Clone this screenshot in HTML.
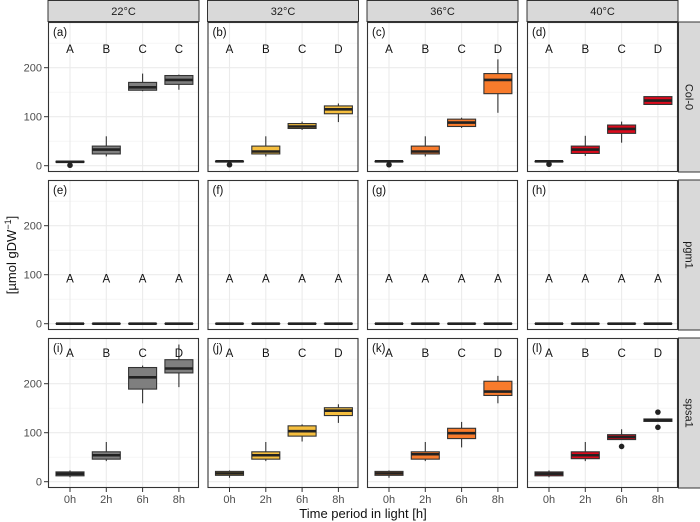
<!DOCTYPE html>
<html><head><meta charset="utf-8"><style>
html,body{margin:0;padding:0;background:#fff;}
svg{display:block;font-family:"Liberation Sans",sans-serif;}
</style></head><body>
<svg id="chart" width="700" height="522"></svg>
<script>
const temps = ["22°C","32°C","36°C","40°C"];
const genotypes = ["Col-0","pgm1","spsa1"];
const timeCats = ["0h","2h","6h","8h"];
const fillColors = ["#7f7f7f","#f5be3e","#f87b2c","#dc0a1c"];
const yTicks = [0,100,200];
const panelTags = [["(a)","(b)","(c)","(d)"],["(e)","(f)","(g)","(h)"],["(i)","(j)","(k)","(l)"]];
const sigLetters = [
 [["A","B","C","C"],["A","B","C","D"],["A","B","C","D"],["A","B","C","D"]],
 [["A","A","A","A"],["A","A","A","A"],["A","A","A","A"],["A","A","A","A"]],
 [["A","B","C","D"],["A","B","C","D"],["A","B","C","D"],["A","B","C","D"]]
];
const letterValues = [238, 92, 263];
// [min,q1,median,q3,max]
const colStats = [
 [[7,7,8,9,9],[19,24,33,40,60],[152,154,160,170,188],[155,166,175,184,186]],
 [[8,8,9,9,10],[19,24,29,40,60],[73,76,80,86,90],[89,106,115,122,127]],
 [[8,8,9,9,10],[19,24,29,40,60],[77,80,88,95,98],[108,147,175,188,217]],
 [[8,8,9,9,10],[20,25,33,40,61],[47,66,75,83,90],[125,125,133,141,141]]
];
const pgmStats = [[0,0,0,0,0],[0,0,0,0,0],[0,0,0,0,0],[0,0,0,0,0]];
const spsStats = [
 [[9,12,16,20,23],[42,46,54,61,81],[160,189,213,233,237],[193,222,231,249,280]],
 [[8,13,17,21,23],[42,46,54,61,81],[82,93,103,114,117],[120,135,145,151,158]],
 [[8,13,17,21,23],[42,46,56,61,81],[70,88,99,109,122],[160,176,184,205,216]],
 [[9,12,16,20,23],[42,47,54,61,81],[86,86,91,96,107],[123,123,126,128,128]]
];
const outliers = [
 [[[1],[],[],[]],[[2],[],[],[]],[[2],[],[],[]],[[3],[],[],[]]],
 [[[],[],[],[]],[[],[],[],[]],[[],[],[],[]],[[],[],[],[]]],
 [[[],[],[],[]],[[],[],[],[]],[[],[],[],[]],[[],[],[72],[111,142]]]
];
const allStats = [colStats, pgmStats.map(()=>pgmStats), spsStats];

const NS="http://www.w3.org/2000/svg";
const svg=document.getElementById('chart');
function mk(tag,attrs,parent){const e=document.createElementNS(NS,tag);for(const k in attrs)e.setAttribute(k,attrs[k]);(parent||svg).appendChild(e);return e;}
const colX=[48,207.5,367,527], PW=151, rowY=[22,180,338], PH=150;
function yScale(r,v){return rowY[r]+PH-6.3-v*0.49;}
function xScale(c,i){return colX[c]+22+i*36.3;}

// strips top
temps.forEach((t,c)=>{
 const s=mk('rect',{x:colX[c],y:0.5,width:PW,height:21,fill:'#d9d9d9',stroke:'#333',"stroke-width":1});
 
 
 const tx=mk('text',{x:colX[c]+PW/2,y:15,"text-anchor":"middle","font-size":11,fill:'#1a1a1a'});tx.textContent=t;
 
 
});
genotypes.forEach((g,r)=>{
 const s=mk('rect',{x:678.5,y:rowY[r],width:22,height:PH,fill:'#d9d9d9',stroke:'#333',"stroke-width":1});
 
 
 const tx=mk('text',{x:0,y:0,"text-anchor":"middle","font-size":11,fill:'#1a1a1a',transform:`translate(685.5,${rowY[r]+PH/2}) rotate(90)`});tx.textContent=g;
 
 
});

for(let r=0;r<3;r++){
 for(let c=0;c<4;c++){
  const x0=colX[c],y0=rowY[r];
  const g=mk('g',{});
  
  
  mk('rect',{x:x0,y:y0,width:PW,height:PH,fill:'#fff'},g);
  // minor grid
  [50,150,250].forEach(v=>{const y=yScale(r,v);if(y>y0)mk('line',{x1:x0,x2:x0+PW,y1:y,y2:y,stroke:'#f0f0f0',"stroke-width":0.6},g);});
  yTicks.forEach(v=>{const y=yScale(r,v);mk('line',{x1:x0,x2:x0+PW,y1:y,y2:y,stroke:'#ebebeb',"stroke-width":1.1},g);});
  timeCats.forEach((t,i)=>{const x=xScale(c,i);mk('line',{x1:x,x2:x,y1:y0,y2:y0+PH,stroke:'#ebebeb',"stroke-width":1.1},g);});
  // boxes
  const stats = r===0?colStats[c]:(r===1?pgmStats:spsStats[c]);
  stats.forEach((s,i)=>{
   const x=xScale(c,i), hw=14;
   const b=mk('g',{},g);
   
   
   mk('line',{x1:x,x2:x,y1:yScale(r,s[4]),y2:yScale(r,s[0]),stroke:'#333',"stroke-width":1.1},b);
   const yq3=yScale(r,s[3]), yq1=yScale(r,s[1]);
   mk('rect',{x:x-hw,y:yq3,width:2*hw,height:Math.max(yq1-yq3,0.01),fill:fillColors[c],stroke:'#333',"stroke-width":1.1},b);
   mk('line',{x1:x-hw,x2:x+hw,y1:yScale(r,s[2]),y2:yScale(r,s[2]),stroke:'#222',"stroke-width":2.6},b);
   outliers[r][c][i].forEach(v=>{
    const o=mk('circle',{cx:x,cy:yScale(r,v),r:2.8,fill:'#222'},b);
    
    
   });
   const L=mk('text',{x:x,y:yScale(r,letterValues[r])+4,"text-anchor":"middle","font-size":11.5,fill:'#111'},g);
   L.textContent=sigLetters[r][c][i];
   
   
  });
  const tg=mk('text',{x:x0+5,y:y0+14,"font-size":11.5,fill:'#111'},g);tg.textContent=panelTags[r][c];
  
  
  mk('rect',{x:x0+0.5,y:y0+0.5,width:PW-1,height:PH-1,fill:'none',stroke:'#333',"stroke-width":1.1},g);
 }
 // y axis
 yTicks.forEach(v=>{const y=yScale(r,v);
  mk('line',{x1:44,x2:48,y1:y,y2:y,stroke:'#333',"stroke-width":1});
  const t=mk('text',{x:42,y:y+4,"text-anchor":"end","font-size":11,fill:'#4d4d4d'});t.textContent=v;
  
  
 });
}
// x axis
for(let c=0;c<4;c++){timeCats.forEach((t,i)=>{const x=xScale(c,i);
 mk('line',{x1:x,x2:x,y1:488,y2:492,stroke:'#333',"stroke-width":1});
 const tx=mk('text',{x:x,y:503,"text-anchor":"middle","font-size":11,fill:'#4d4d4d'});tx.textContent=t;
 
 
});}
const xt=mk('text',{x:363,y:518,"text-anchor":"middle","font-size":13,fill:'#111'});xt.textContent='Time period in light [h]';


const yt=mk('text',{x:0,y:0,"text-anchor":"middle","font-size":13,fill:'#111',transform:'translate(16,255) rotate(-90)'});
yt.innerHTML='[µmol gDW<tspan dy="-5" font-size="9">−1</tspan><tspan dy="5">]</tspan>';


</script>
</body></html>
